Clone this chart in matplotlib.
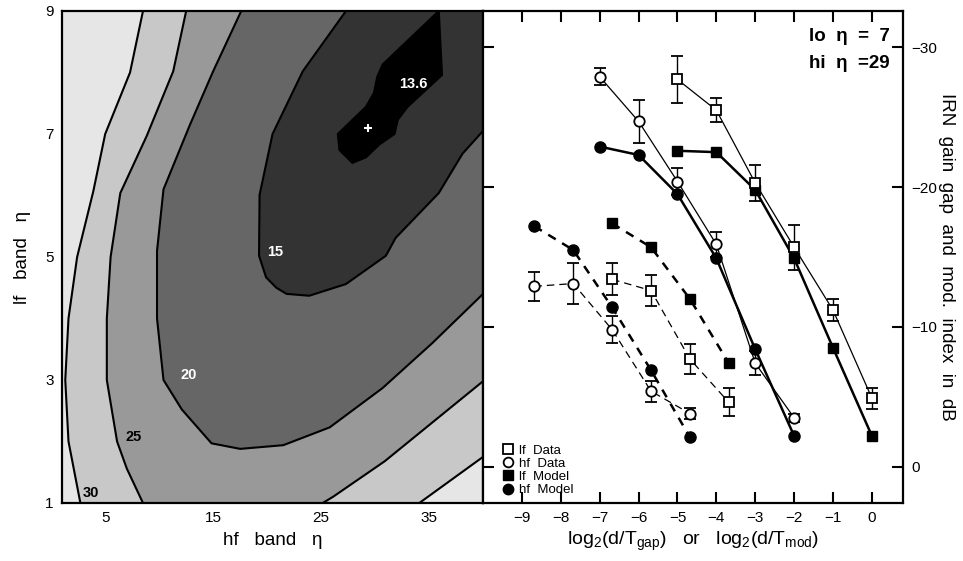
import matplotlib.pyplot as plt
from matplotlib.lines import Line2D
import numpy as np

plt.rcParams['font.family'] = ['Liberation Sans', 'DejaVu Sans']
plt.rcParams['mathtext.fontset'] = 'custom'
plt.rcParams['mathtext.rm'] = 'Liberation Sans'
plt.rcParams['mathtext.it'] = 'Liberation Sans'

# ---- left panel: contour lines (hf band eta, lf band eta)
hf_lim = (1, 40)
lf_lim = (1, 9)

c30_hf = [2.7, 1.6, 1.3, 1.6, 2.4, 3.9, 5.0, 7.3, 8.5]
c30_lf = [1.0, 2.0, 3.0, 4.0, 5.0, 6.07, 7.0, 8.0, 9.0]
c30b_hf = [34.1, 40.0]
c30b_lf = [1.0, 1.75]

c25_hf = [8.5, 7.0, 6.1, 5.15, 5.15, 5.5, 6.4, 8.85, 11.3, 12.5]
c25_lf = [1.0, 1.56, 2.0, 3.0, 4.0, 5.0, 6.04, 6.97, 8.02, 9.0]
c25b_hf = [25.15, 26.1, 30.9, 40.0]
c25b_lf = [1.0, 1.1, 1.68, 2.98]

c20_hf = [17.6, 15.0, 12.85, 10.4, 9.8, 9.8, 10.4, 12.1, 14.85, 17.5, 21.5, 25.8, 30.7, 35.3, 40.0]
c20_lf = [9.0, 8.02, 7.15, 6.1, 5.1, 4.0, 3.0, 2.52, 1.97, 1.88, 1.94, 2.23, 2.87, 3.6, 4.4]

c15_hf = [27.3, 23.3, 20.5, 19.3, 19.25, 19.9, 20.85, 21.8, 23.9, 27.3, 31.0, 31.9, 35.9, 38.1, 40.0]
c15_lf = [9.0, 8.02, 7.0, 6.01, 5.02, 4.67, 4.5, 4.4, 4.37, 4.56, 5.02, 5.31, 6.04, 6.68, 7.05]

c136_hf = [35.9, 33.15, 30.7, 30.2, 29.9, 29.15, 27.9, 26.55, 26.7, 27.9, 29.15, 30.4, 31.8, 32.1, 33.0, 36.2]
c136_lf = [9.0, 8.54, 8.13, 7.93, 7.67, 7.44, 7.23, 7.0, 6.74, 6.53, 6.62, 6.83, 7.0, 7.23, 7.44, 7.96]

shades = ['#e6e6e6', '#c8c8c8', '#999999', '#666666', '#333333', '#000000']
best_hf, best_lf = 29.3, 7.1

# ---- right panel: IRN gain (dB) vs log2 duration ratio
x_a_lf = [-5, -4, -3, -2, -1, 0]
x_a_hf = [-7, -6, -5, -4, -3, -2]
x_b_hf = [-8.68, -7.68, -6.68, -5.68, -4.68]
x_b_lf = [-6.68, -5.68, -4.68, -3.68]

lf_data_a = [-27.7, -25.5, -20.3, -15.7, -11.2, -4.9]
lf_err_a = [1.65, 0.85, 1.3, 1.6, 0.8, 0.75]
hf_data_a = [-27.9, -24.7, -20.4, -15.9, -7.4, -3.5]
hf_err_a = [0.6, 1.55, 1.0, 0.9, 0.85, 0.3]
lf_model_a = [-22.6, -22.5, -19.8, -14.9, -8.5, -2.2]
hf_model_a = [-22.9, -22.3, -19.5, -14.9, -8.4, -2.2]

hf_data_b = [-12.9, -13.1, -9.8, -5.4, -3.8]
hf_err_b = [1.05, 1.45, 0.95, 0.75, 0.4]
lf_data_b = [-13.4, -12.6, -7.7, -4.6]
lf_err_b = [1.15, 1.1, 1.05, 1.0]
lf_model_b = [-17.4, -15.7, -12.0, -7.4]
hf_model_b = [-17.2, -15.5, -11.4, -6.9, -2.1]

fig = plt.figure(figsize=(9.63, 5.61), dpi=100)

# left panel
ax1 = fig.add_axes([0.0644, 0.1034, 0.4372, 0.877])
ax1.set_facecolor(shades[0])
top = [(hf_lim[1], lf_lim[1])]
poly30 = list(zip(c30_hf, c30_lf)) + top + list(zip(c30b_hf, c30b_lf))[::-1]
poly25 = list(zip(c25_hf, c25_lf)) + top + list(zip(c25b_hf, c25b_lf))[::-1]
poly20 = list(zip(c20_hf, c20_lf)) + top
poly15 = list(zip(c15_hf, c15_lf)) + top
poly136 = list(zip(c136_hf, c136_lf))
for poly, col in zip([poly30, poly25, poly20, poly15, poly136], shades[1:]):
    p = np.array(poly)
    ax1.fill(p[:, 0], p[:, 1], color=col, lw=0)
for xs, ys in [(c30_hf, c30_lf), (c30b_hf, c30b_lf), (c25_hf, c25_lf), (c25b_hf, c25b_lf),
               (c20_hf, c20_lf), (c15_hf, c15_lf)]:
    ax1.plot(xs, ys, color='k', lw=1.5)
ax1.plot(c136_hf + c136_hf[:1], c136_lf + c136_lf[:1], color='k', lw=1.5)
ax1.plot(best_hf, best_lf, marker='+', color='white', ms=6, mew=1.5)

lab = dict(fontsize=10.5, fontweight='bold', ha='center', va='center')
ax1.text(33.5, 7.81, '13.6', color='white', **lab)
ax1.text(20.7, 5.08, '15', color='white', **lab)
ax1.text(12.7, 3.08, '20', color='white', **lab)
ax1.text(7.6, 2.08, '25', color='k', **lab)
ax1.text(3.7, 1.17, '30', color='k', **lab)

ax1.set_xlim(*hf_lim)
ax1.set_ylim(*lf_lim)
ax1.set_xticks([5, 15, 25, 35])
ax1.set_yticks([1, 3, 5, 7, 9])
ax1.tick_params(length=0, labelsize=11, pad=6)
ax1.set_xlabel('hf   band   η', fontsize=13.5, labelpad=5)
ax1.set_ylabel('lf   band   η', fontsize=13.5, labelpad=10)
for s in ax1.spines.values():
    s.set_linewidth(1.6)

# right panel
ax2 = fig.add_axes([0.5016, 0.1034, 0.4361, 0.877])
eb = dict(color='k', elinewidth=1.0, capsize=4, capthick=1.0, mew=1.3, mfc='white')
ax2.errorbar(x_a_lf, lf_data_a, yerr=lf_err_a, fmt='s-', ms=7, lw=0.9, **eb)
ax2.errorbar(x_a_hf, hf_data_a, yerr=hf_err_a, fmt='o-', ms=7.5, lw=0.9, **eb)
ax2.errorbar(x_b_hf, hf_data_b, yerr=hf_err_b, fmt='o', ms=7.5, **eb)
ax2.plot(x_b_hf, hf_data_b, color='k', lw=0.9, ls=(0, (6, 4)), zorder=1)
ax2.errorbar(x_b_lf, lf_data_b, yerr=lf_err_b, fmt='s', ms=7, **eb)
ax2.plot(x_b_lf, lf_data_b, color='k', lw=0.9, ls=(0, (6, 4)), zorder=1)

ax2.plot(x_a_lf, lf_model_a, color='k', lw=1.8, marker='s', ms=7.5)
ax2.plot(x_a_hf, hf_model_a, color='k', lw=1.8, marker='o', ms=8)
ax2.plot(x_b_lf, lf_model_b, color='k', lw=1.8, ls=(0, (3.5, 3)), marker='s', ms=7.5)
ax2.plot(x_b_hf, hf_model_b, color='k', lw=1.8, ls=(0, (3.5, 3)), marker='o', ms=8)

handles = [
    Line2D([], [], marker='s', ls='none', color='k', mfc='white', mew=1.3, ms=6.5),
    Line2D([], [], marker='o', ls='none', color='k', mfc='white', mew=1.3, ms=7),
    Line2D([], [], marker='s', ls='none', color='k', ms=7),
    Line2D([], [], marker='o', ls='none', color='k', ms=7.5),
]
ax2.legend(handles, ['lf  Data', 'hf  Data', 'lf  Model', 'hf  Model'], loc='lower left',
           bbox_to_anchor=(0.03, 0.0), frameon=False, fontsize=9.5, handlelength=0.8,
           handletextpad=0.5, labelspacing=0.08, borderaxespad=0.3, borderpad=0.2)

ax2.text(0.968, 0.949, 'lo  η  =  7', transform=ax2.transAxes, ha='right', va='center',
         fontsize=13.5, fontweight='bold')
ax2.text(0.968, 0.893, 'hi  η  =29', transform=ax2.transAxes, ha='right', va='center',
         fontsize=13.5, fontweight='bold')

ax2.set_xlim(-10, 0.8)
ax2.set_ylim(2.6, -32.6)
ax2.set_xticks(np.arange(-9, 1))
ax2.set_yticks([0, -10, -20, -30])
ax2.tick_params(direction='in', top=True, bottom=True, left=True, right=True,
                labelleft=False, labelright=True, length=8, width=1.5, labelsize=11, pad=6)
ax2.set_xlabel(r'log$_2$(d/T$_{\mathrm{gap}}$)   or   log$_2$(d/T$_{\mathrm{mod}}$)', fontsize=14, labelpad=3)
ax2.yaxis.set_label_position('right')
ax2.set_ylabel('IRN  gain  gap  and  mod.  index  in  dB', fontsize=13.5, rotation=-90, labelpad=13)
for s in ax2.spines.values():
    s.set_linewidth(1.6)

fig.savefig('out.png', dpi=100)
